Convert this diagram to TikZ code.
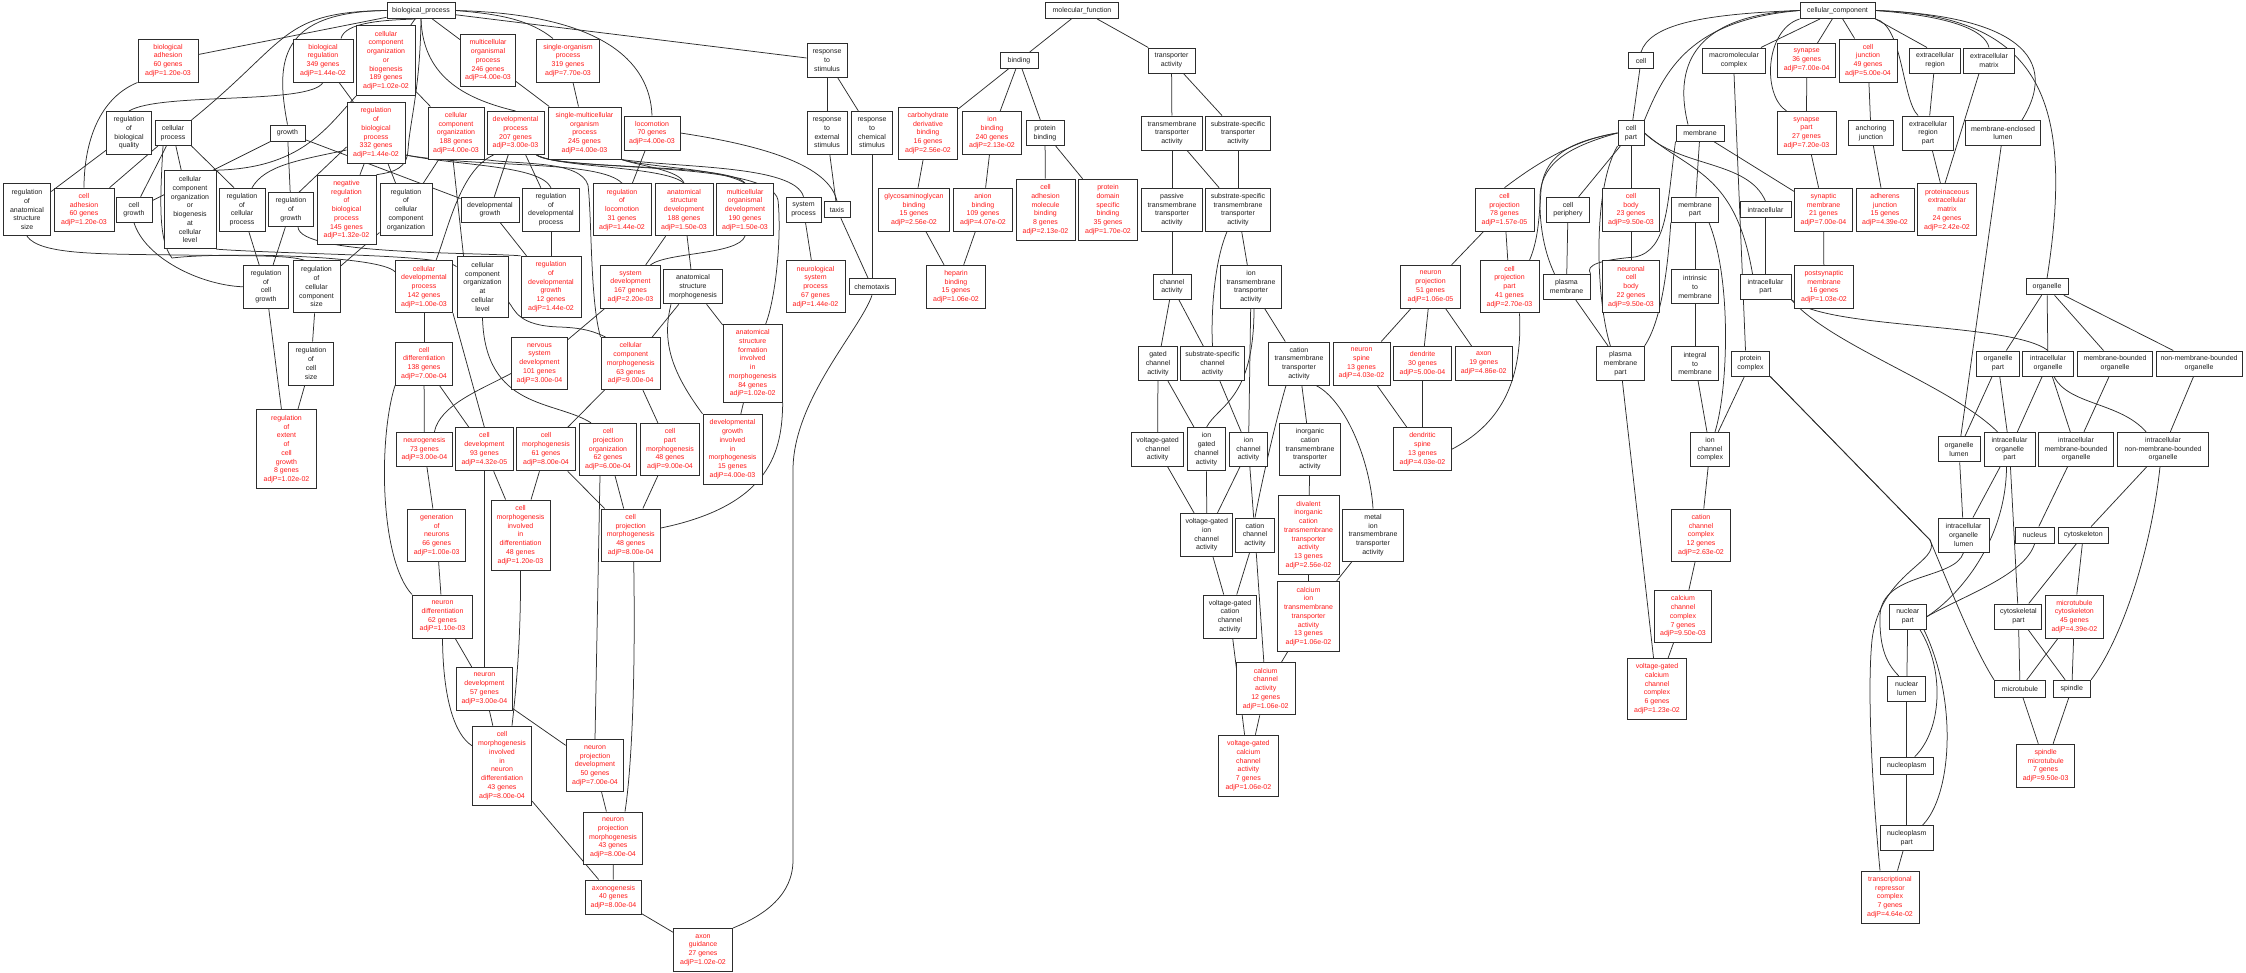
\documentclass[tikz,border=0pt]{standalone}
\usepackage{fontspec}
\setmainfont{Liberation Sans}
\usetikzlibrary{backgrounds}
\definecolor{gored}{RGB}{255,25,25}
\definecolor{gotext}{RGB}{30,30,30}
\definecolor{goline}{RGB}{45,45,45}
\tikzset{
  gb/.style 2 args={draw=goline, line width=1pt, fill=white, rectangle, inner sep=0.5pt, align=center, text=gotext, font=\fontsize{7}{8.75}\selectfont, minimum width=#1pt, minimum height=#2pt},
  rb/.style 2 args={gb={#1}{#2}, text=gored},
  edge/.style={draw=goline, line width=0.75pt},
}
\begin{document}
\begin{tikzpicture}[x=1pt,y=-1pt]
\useasboundingbox (0,0) rectangle (2246,972);
% ---------- row 0
\node[gb={68}{16}] (bp) at (421,10.5) {biological\_process};
\node[gb={73}{16}] (mf) at (1082,10.5) {molecular\_function};
\node[gb={75}{16}] (cc) at (1837.5,10.5) {cellular\_component};
% ---------- row 1
\node[rb={60}{43}] (bioadh) at (168,60.5) {biological\\adhesion\\60 genes\\adjP=1.20e-03};
\node[rb={60}{43}] (bioreg) at (323,60.5) {biological\\regulation\\349 genes\\adjP=1.44e-02};
\node[rb={59}{70}] (ccob) at (386,60.5) {cellular\\component\\organization\\or\\biogenesis\\189 genes\\adjP=1.02e-02};
\node[rb={55}{52}] (mop) at (488,60.5) {multicellular\\organismal\\process\\246 genes\\adjP=4.00e-03};
\node[rb={63}{43}] (sop) at (568,60.5) {single-organism\\process\\319 genes\\adjP=7.70e-03};
\node[gb={40}{34}] (rts) at (827,60.5) {response\\to\\stimulus};
\node[gb={38}{16}] (binding) at (1019,60.5) {binding};
\node[gb={47}{25}] (ta) at (1171.5,60.5) {transporter\\activity};
\node[gb={25}{16}] (cell) at (1641,60.5) {cell};
\node[gb={63}{25}] (macro) at (1734,60.5) {macromolecular\\complex};
\node[rb={58}{34}] (synapse) at (1806.7,60.5) {synapse\\36 genes\\adjP=7.00e-04};
\node[rb={58}{43}] (celljunc) at (1868,60.5) {cell\\junction\\49 genes\\adjP=5.00e-04};
\node[gb={51}{25}] (ecr) at (1935,60.5) {extracellular\\region};
\node[gb={51}{25}] (ecm) at (1989,60.5) {extracellular\\matrix};
% ---------- row 2
\node[gb={45}{43}] (rbq) at (129,133) {regulation\\of\\biological\\quality};
\node[gb={36}{25}] (cp) at (173,133) {cellular\\process};
\node[gb={35}{16}] (growth) at (287.5,133) {growth};
\node[rb={58}{61}] (rbp) at (376,133) {regulation\\of\\biological\\process\\332 genes\\adjP=1.44e-02};
\node[rb={56}{52}] (cco) at (456,133) {cellular\\component\\organization\\188 genes\\adjP=4.00e-03};
\node[rb={57}{43}] (devp) at (515.5,133) {developmental\\process\\207 genes\\adjP=3.00e-03};
\node[rb={73}{52}] (smop) at (584.5,133) {single-multicellular\\organism\\process\\245 genes\\adjP=4.00e-03};
\node[rb={56}{34}] (loco) at (652,133) {locomotion\\70 genes\\adjP=4.00e-03};
\node[gb={40}{43}] (rtes) at (827,133) {response\\to\\external\\stimulus};
\node[gb={41}{43}] (rtcs) at (872,133) {response\\to\\chemical\\stimulus};
\node[rb={59.5}{52}] (cdb) at (928,133) {carbohydrate\\derivative\\binding\\16 genes\\adjP=2.56e-02};
\node[rb={59.5}{43}] (ionb) at (992,133) {ion\\binding\\240 genes\\adjP=2.13e-02};
\node[gb={38}{25}] (protb) at (1045,133) {protein\\binding};
\node[gb={60.5}{34}] (tmta) at (1172,133) {transmembrane\\transporter\\activity};
\node[gb={64.5}{34}] (ssta) at (1238,133) {substrate-specific\\transporter\\activity};
\node[gb={26}{25}] (cellpart) at (1631,133) {cell\\part};
\node[gb={48}{16}] (membrane) at (1700,133) {membrane};
\node[rb={59}{43}] (synpart) at (1806.5,133) {synapse\\part\\27 genes\\adjP=7.20e-03};
\node[gb={45.5}{25}] (anchor) at (1871,133) {anchoring\\junction};
\node[gb={51}{34}] (ecrp) at (1928,133) {extracellular\\region\\part};
\node[gb={75.5}{25}] (mel) at (2003,133) {membrane-enclosed\\lumen};
% ---------- row 3
\node[gb={47.5}{52}] (rass) at (27,209.7) {regulation\\of\\anatomical\\structure\\size};
\node[rb={60}{43}] (celladh) at (84,209.7) {cell\\adhesion\\60 genes\\adjP=1.20e-03};
\node[gb={36}{25}] (cellgrowth) at (134,209.7) {cell\\growth};
\node[gb={52}{78}] (ccobcl) at (190,209.7) {cellular\\component\\organization\\or\\biogenesis\\at\\cellular\\level};
\node[gb={46}{43}] (rcp) at (242,209.7) {regulation\\of\\cellular\\process};
\node[gb={45}{34}] (rog) at (291,209.7) {regulation\\of\\growth};
\node[rb={59}{69}] (nrbp) at (346.5,209.7) {negative\\regulation\\of\\biological\\process\\145 genes\\adjP=1.32e-02};
\node[gb={52}{52}] (rcco) at (406,209.7) {regulation\\of\\cellular\\component\\organization};
\node[gb={58}{25}] (devgrowth) at (490,209.7) {developmental\\growth};
\node[gb={57.5}{43}] (rdp) at (551,209.7) {regulation\\of\\developmental\\process};
\node[rb={58}{52}] (rol) at (622,209.7) {regulation\\of\\locomotion\\31 genes\\adjP=1.44e-02};
\node[rb={58}{52}] (asd) at (684,209.7) {anatomical\\structure\\development\\188 genes\\adjP=1.50e-03};
\node[rb={57.5}{52}] (mod) at (745,209.7) {multicellular\\organismal\\development\\190 genes\\adjP=1.50e-03};
\node[gb={35}{25}] (sysproc) at (803.5,209.7) {system\\process};
\node[gb={26}{16}] (taxis) at (837,209.7) {taxis};
\node[rb={71}{43}] (gagb) at (914,209.7) {glycosaminoglycan\\binding\\15 genes\\adjP=2.56e-02};
\node[rb={59}{43}] (anionb) at (983,209.7) {anion\\binding\\109 genes\\adjP=4.07e-02};
\node[rb={59}{61}] (camb) at (1045.5,209.7) {cell\\adhesion\\molecule\\binding\\8 genes\\adjP=2.13e-02};
\node[rb={59}{61}] (pdsb) at (1108,209.7) {protein\\domain\\specific\\binding\\35 genes\\adjP=1.70e-02};
\node[gb={60.5}{43}] (ptta) at (1172,209.7) {passive\\transmembrane\\transporter\\activity};
\node[gb={64.5}{43}] (sstta) at (1238,209.7) {substrate-specific\\transmembrane\\transporter\\activity};
\node[rb={59}{43}] (cproj) at (1504.5,209.7) {cell\\projection\\78 genes\\adjP=1.57e-05};
\node[gb={43.5}{25}] (cperiph) at (1568,209.7) {cell\\periphery};
\node[rb={57.5}{43}] (cbody) at (1631,209.7) {cell\\body\\23 genes\\adjP=9.50e-03};
\node[gb={47.5}{25}] (mempart) at (1695,209.7) {membrane\\part};
\node[gb={51}{16}] (intracell) at (1765.5,209.7) {intracellular};
\node[rb={58}{43}] (synmem) at (1823.5,209.7) {synaptic\\membrane\\21 genes\\adjP=7.00e-04};
\node[rb={58}{43}] (adherens) at (1885,209.7) {adherens\\junction\\15 genes\\adjP=4.39e-02};
\node[rb={59.5}{52}] (pecm) at (1947,209.7) {proteinaceous\\extracellular\\matrix\\24 genes\\adjP=2.42e-02};
% ---------- row 4
\node[gb={45.5}{43}] (rcg) at (266,286.8) {regulation\\of\\cell\\growth};
\node[gb={47}{52}] (rccs) at (316.5,286.8) {regulation\\of\\cellular\\component\\size};
\node[rb={57}{52}] (cdp) at (424,286.8) {cellular\\developmental\\process\\142 genes\\adjP=1.00e-03};
\node[gb={51}{61}] (ccocl) at (482.5,286.8) {cellular\\component\\organization\\at\\cellular\\level};
\node[rb={60}{61}] (rdg) at (551,286.8) {regulation\\of\\developmental\\growth\\12 genes\\adjP=1.44e-02};
\node[rb={60}{43}] (sysdev) at (630.5,286.8) {system\\development\\167 genes\\adjP=2.20e-03};
\node[gb={59}{34}] (asm) at (693,286.8) {anatomical\\structure\\morphogenesis};
\node[rb={59}{52}] (nsp) at (815.5,286.8) {neurological\\system\\process\\67 genes\\adjP=1.44e-02};
\node[gb={46}{16}] (chemotaxis) at (872,286.8) {chemotaxis};
\node[rb={59.5}{43}] (heparin) at (956,286.8) {heparin\\binding\\15 genes\\adjP=1.06e-02};
\node[gb={38}{25}] (chact) at (1172,286.8) {channel\\activity};
\node[gb={61}{43}] (itta) at (1251,286.8) {ion\\transmembrane\\transporter\\activity};
\node[rb={59.5}{43}] (nproj) at (1430.5,286.8) {neuron\\projection\\51 genes\\adjP=1.06e-05};
\node[rb={59}{52}] (cpp) at (1509.5,286.8) {cell\\projection\\part\\41 genes\\adjP=2.70e-03};
\node[gb={47}{25}] (pm) at (1566.5,286.8) {plasma\\membrane};
\node[rb={57.5}{52}] (ncb) at (1631,286.8) {neuronal\\cell\\body\\22 genes\\adjP=9.50e-03};
\node[gb={47.5}{34}] (itm) at (1695,286.8) {intrinsic\\to\\membrane};
\node[gb={51}{25}] (icpart) at (1765.5,286.8) {intracellular\\part};
\node[rb={59.5}{43}] (psm) at (1824,286.8) {postsynaptic\\membrane\\16 genes\\adjP=1.03e-02};
\node[gb={42}{16}] (organelle) at (2047,286.8) {organelle};
% ---------- row 5
\node[gb={45}{43}] (rcs) at (311,363.5) {regulation\\of\\cell\\size};
\node[rb={57}{43}] (celldiff) at (424,363.5) {cell\\differentiation\\138 genes\\adjP=7.00e-04};
\node[rb={56}{52}] (nsd) at (539.5,363.5) {nervous\\system\\development\\101 genes\\adjP=3.00e-04};
\node[rb={59.4}{52}] (ccm) at (630.7,363.5) {cellular\\component\\morphogenesis\\63 genes\\adjP=9.00e-04};
\node[rb={59}{78}] (asfim) at (752.7,363.5) {anatomical\\structure\\formation\\involved\\in\\morphogenesis\\84 genes\\adjP=1.02e-02};
\node[gb={38.5}{34}] (gca) at (1158,363.5) {gated\\channel\\activity};
\node[gb={64.3}{34}] (ssca) at (1212.5,363.5) {substrate-specific\\channel\\activity};
\node[gb={61.4}{43}] (ctta) at (1299,363.5) {cation\\transmembrane\\transporter\\activity};
\node[rb={57}{43}] (nspine) at (1361.5,363.5) {neuron\\spine\\13 genes\\adjP=4.03e-02};
\node[rb={57.5}{34}] (dendrite) at (1422.5,363.5) {dendrite\\30 genes\\adjP=5.00e-04};
\node[rb={57.4}{34}] (axon) at (1483.7,363.5) {axon\\19 genes\\adjP=4.86e-02};
\node[gb={47.3}{34}] (pmp) at (1620.4,363.5) {plasma\\membrane\\part};
\node[gb={47.5}{34}] (integ) at (1695,363.5) {integral\\to\\membrane};
\node[gb={38.5}{25}] (protcomplex) at (1750.5,363.5) {protein\\complex};
\node[gb={42.6}{25}] (orgpart) at (1998,363.5) {organelle\\part};
\node[gb={50.5}{25}] (icorg) at (2048,363.5) {intracellular\\organelle};
\node[gb={75}{25}] (mbo) at (2115,363.5) {membrane-bounded\\organelle};
\node[gb={86}{25}] (nmbo) at (2199,363.5) {non-membrane-bounded\\organelle};
% ---------- row 6
\node[rb={60}{79}] (rex) at (286.5,449.3) {regulation\\of\\extent\\of\\cell\\growth\\8 genes\\adjP=1.02e-02};
\node[rb={56}{34}] (neurogenesis) at (424.4,449.3) {neurogenesis\\73 genes\\adjP=3.00e-04};
\node[rb={57.5}{43}] (celldev) at (484.4,449.3) {cell\\development\\93 genes\\adjP=4.32e-05};
\node[rb={59}{43}] (cellmorph) at (546,449.3) {cell\\morphogenesis\\61 genes\\adjP=8.00e-04};
\node[rb={57.5}{52}] (cpo) at (608,449.3) {cell\\projection\\organization\\62 genes\\adjP=6.00e-04};
\node[rb={59}{52}] (cpm) at (670,449.3) {cell\\part\\morphogenesis\\48 genes\\adjP=9.00e-04};
\node[rb={59}{70}] (dgim) at (732.5,449.3) {developmental\\growth\\involved\\in\\morphogenesis\\15 genes\\adjP=4.00e-03};
\node[gb={52.7}{34}] (vgca) at (1157.6,449.3) {voltage-gated\\channel\\activity};
\node[gb={38.5}{43}] (igca) at (1206.5,449.3) {ion\\gated\\channel\\activity};
\node[gb={38}{34}] (ica) at (1248.5,449.3) {ion\\channel\\activity};
\node[gb={60.8}{52}] (icta) at (1310,449.3) {inorganic\\cation\\transmembrane\\transporter\\activity};
\node[rb={57.5}{43}] (dspine) at (1422.5,449.3) {dendritic\\spine\\13 genes\\adjP=4.03e-02};
\node[gb={39}{34}] (icc) at (1710,449.3) {ion\\channel\\complex};
\node[gb={42}{25}] (orglumen) at (1959,449.3) {organelle\\lumen};
\node[gb={51}{34}] (icop) at (2009.5,449.3) {intracellular\\organelle\\part};
\node[gb={75}{34}] (imbo) at (2076,449.3) {intracellular\\membrane-bounded\\organelle};
\node[gb={91}{34}] (inmbo) at (2163,449.3) {intracellular\\non-membrane-bounded\\organelle};
% ---------- row 7
\node[rb={57.5}{52}] (gon) at (436.7,535) {generation\\of\\neurons\\66 genes\\adjP=1.00e-03};
\node[rb={59}{70}] (cmid) at (520.5,535) {cell\\morphogenesis\\involved\\in\\differentiation\\48 genes\\adjP=1.20e-03};
\node[rb={59.4}{52}] (cprojm) at (630.7,535) {cell\\projection\\morphogenesis\\48 genes\\adjP=8.00e-04};
\node[gb={52}{43}] (vgica) at (1206.7,535) {voltage-gated\\ion\\channel\\activity};
\node[gb={38.5}{34}] (cca) at (1255,535) {cation\\channel\\activity};
\node[rb={61}{79}] (dicta) at (1308.5,535) {divalent\\inorganic\\cation\\transmembrane\\transporter\\activity\\13 genes\\adjP=2.56e-02};
\node[gb={60.8}{52}] (mitta) at (1373,535) {metal\\ion\\transmembrane\\transporter\\activity};
\node[rb={58.6}{52}] (ccc) at (1701,535) {cation\\channel\\complex\\12 genes\\adjP=2.63e-02};
\node[gb={51}{34}] (iol) at (1963.6,535) {intracellular\\organelle\\lumen};
\node[gb={39}{16}] (nucleus) at (2034.7,535) {nucleus};
\node[gb={50}{16}] (cytoskeleton) at (2083.3,535) {cytoskeleton};
% ---------- row 8
\node[rb={60}{43}] (ndiff) at (442.5,616.5) {neuron\\differentiation\\62 genes\\adjP=1.10e-03};
\node[gb={52.4}{43}] (vgcca) at (1230,616.5) {voltage-gated\\cation\\channel\\activity};
\node[rb={61.5}{70}] (citta) at (1308.5,616.5) {calcium\\ion\\transmembrane\\transporter\\activity\\13 genes\\adjP=1.06e-02};
\node[rb={57.5}{52}] (calcc) at (1683,616.5) {calcium\\channel\\complex\\7 genes\\adjP=9.50e-03};
\node[gb={37.5}{25}] (nucpart) at (1907.8,616.5) {nuclear\\part};
\node[gb={47}{25}] (cskpart) at (2018.4,616.5) {cytoskeletal\\part};
\node[rb={58}{43}] (mtcsk) at (2074.4,616.5) {microtubule\\cytoskeleton\\45 genes\\adjP=4.39e-02};
% ---------- row 9
\node[rb={56}{43}] (ndev) at (484.4,688.8) {neuron\\development\\57 genes\\adjP=3.00e-04};
\node[rb={59.3}{52}] (calca) at (1265.7,688.8) {calcium\\channel\\activity\\12 genes\\adjP=1.06e-02};
\node[rb={59}{61}] (vgccc) at (1657,688.8) {voltage-gated\\calcium\\channel\\complex\\6 genes\\adjP=1.23e-02};
\node[gb={37.5}{25}] (nuclumen) at (1906.7,688.8) {nuclear\\lumen};
\node[gb={51}{17}] (microtubule) at (2020,688.8) {microtubule};
\node[gb={37.5}{17}] (spindle) at (2071.8,688.8) {spindle};
% ---------- row 10
\node[rb={59}{79}] (cmind) at (502,765.7) {cell\\morphogenesis\\involved\\in\\neuron\\differentiation\\43 genes\\adjP=8.00e-04};
\node[rb={57.5}{52}] (npd) at (595,765.7) {neuron\\projection\\development\\50 genes\\adjP=7.00e-04};
\node[rb={59.6}{61}] (vgcca2) at (1248.4,765.7) {voltage-gated\\calcium\\channel\\activity\\7 genes\\adjP=1.06e-02};
\node[gb={52.7}{17}] (nucleoplasm) at (1906.7,765.7) {nucleoplasm};
\node[rb={58}{43}] (spmt) at (2045.6,765.7) {spindle\\microtubule\\7 genes\\adjP=9.50e-03};
% ---------- rows 11-13
\node[rb={59.6}{52}] (npm) at (613,838) {neuron\\projection\\morphogenesis\\43 genes\\adjP=8.00e-04};
\node[gb={52.7}{25}] (npart) at (1906.7,838) {nucleoplasm\\part};
\node[rb={56}{34}] (axonogenesis) at (613.5,897) {axonogenesis\\40 genes\\adjP=8.00e-04};
\node[rb={58}{52}] (trc) at (1890,897) {transcriptional\\repressor\\complex\\7 genes\\adjP=4.64e-02};
\node[rb={59}{43}] (axonguid) at (703,950) {axon\\guidance\\27 genes\\adjP=1.02e-02};

% ================= connectors
\begin{scope}[on background layer]
\foreach \a/\b in {bp/bioadh, bp/ccob, bp/mop, bp/rts,
  bioreg/rbp, ccob/cco, mop/smop, sop/smop, rbq/rass,
  cp/cellgrowth, cp/ccobcl, cp/celladh,
  growth/cellgrowth, growth/rog, growth/devgrowth,
  rbp/nrbp, rbp/rcco, cco/rcco,
  devp/devgrowth, devp/rdp,
  loco/rol, rts/rtes, rts/rtcs, rtes/taxis, rtcs/chemotaxis, taxis/chemotaxis,
  rdp/rdg, devgrowth/rdg, rog/rcg, rcp/rcg, rcco/rccs,
  asd/sysdev, asd/asm, sysproc/nsp, rccs/rcs, rcg/rex, rcs/rex,
  cdp/celldiff, sysdev/nsd, asm/ccm, asm/asfim, celldiff/neurogenesis, celldiff/celldev,
  ccm/cellmorph, ccm/cpm, celldev/cmid, cellmorph/cmid, cellmorph/cprojm,
  neurogenesis/gon, gon/ndiff, ndiff/ndev, celldev/ndev, ndev/cmind,
  cpo/cprojm, cpm/cprojm, asfim/dgim, ndev/npd, npd/npm, npm/axonogenesis,
  cmind/axonogenesis, axonogenesis/axonguid,
  mf/binding, mf/ta, binding/cdb, binding/ionb, binding/protb, cdb/gagb, ionb/anionb,
  gagb/heparin, anionb/heparin, protb/camb, protb/pdsb,
  ta/tmta, ta/ssta, tmta/ptta, tmta/sstta, ssta/sstta, ptta/chact, sstta/itta,
  chact/gca, chact/ssca, itta/ica, itta/ctta,
  gca/vgca, gca/igca, ssca/ica, ctta/icta, vgca/vgica, igca/vgica, ica/vgica, ica/cca,
  icta/dicta, vgica/vgcca, cca/vgcca, dicta/citta, mitta/citta, citta/calca, cca/calca,
  calca/vgcca2, vgcca/vgcca2,
  cc/macro, cc/synapse, cc/celljunc, cell/cellpart, cellpart/cperiph, cellpart/cbody,
  membrane/mempart, membrane/synmem, mempart/itm, itm/integ, integ/icc, protcomplex/icc,
  cperiph/pm, cproj/nproj, cproj/cpp, cbody/ncb, nproj/nspine, nproj/dendrite, nproj/axon,
  nspine/dspine, dendrite/dspine, pm/pmp, pmp/vgccc, icc/ccc, ccc/calcc, calcc/vgccc,
  synapse/synpart, synpart/synmem, synmem/psm, celljunc/anchor, anchor/adherens,
  ecr/ecrp, ecrp/pecm, mel/orglumen, intracell/icpart,
  organelle/orgpart, organelle/icorg, organelle/mbo, organelle/nmbo,
  orgpart/orglumen, orgpart/icop, icorg/icop, icorg/imbo, mbo/imbo, nmbo/inmbo,
  orglumen/iol, icop/iol, imbo/nucleus, inmbo/cytoskeleton, icop/cskpart,
  cytoskeleton/cskpart, cytoskeleton/mtcsk, nucpart/nuclumen, nuclumen/nucleoplasm,
  nucleoplasm/npart, npart/trc, cskpart/microtubule, cskpart/spindle,
  mtcsk/microtubule, mtcsk/spindle, microtubule/spmt, spindle/spmt}
  \draw[edge] (\a) -- (\b);

% ---- shifted straight connectors
\draw[edge] ([yshift=-14pt]rbp.west) -- ([xshift=8pt]rog.north);
\draw[edge] (cp.south east) -- ([xshift=-8pt]rcp.north);
\draw[edge] ([xshift=-3pt]cco.south) -- ([xshift=-19pt]ccocl.north);
\draw[edge] (cdp.south east) -- (celldev.north);
\draw[edge] ([xshift=-8pt]cpo.south) -- (npd.north);
\draw[edge] (cc.south east) -- ([xshift=-8pt]ecr.north);
\draw[edge] ([xshift=-10pt]ecm.south) -- ([xshift=-2pt]pecm.north);
\draw[edge] (macro.south) -- ([xshift=-5pt]protcomplex.north);

% ---- curved connectors, biological process
\draw[edge] ([xshift=-5pt]bp.south) .. controls (385,20) and (345,22) .. ([xshift=18pt]bioreg.north);
\draw[edge] (bp.east) .. controls (500,14) and (530,20) .. ([xshift=-15pt]sop.north);
\draw[edge] (bp.east) .. controls (600,14) and (650,60) .. (loco.north);
\draw[edge] (bp.south) .. controls (423,80) and (470,100) .. (devp.north);
\draw[edge] (bp.west) .. controls (280,12) and (275,60) .. (growth.north);
\draw[edge] (bp.west) .. controls (280,12) and (290,40) .. (cp.north east);
\draw[edge] (bp.south) .. controls (420,90) and (410,120) .. (408,150) .. controls (407,168) and (395,172) .. (nrbp.north east);
\draw[edge] (bioadh.south west) .. controls (95,100) and (84,150) .. (celladh.north);
\draw[edge] (bioreg.south) .. controls (310,105) and (160,92) .. (rbq.north);
\draw[edge] (ccob.south west) .. controls (325,130) and (300,168) .. (ccobcl.north east);
\draw[edge] ([xshift=-10pt]cp.south) .. controls (160,200) and (158,240) .. (172,258) .. controls (220,252) and (380,255) .. ([yshift=15pt]cdp.west);
\draw[edge] (rass.south) .. controls (40,255) and (100,254) .. (180,255) .. controls (250,256) and (290,255) .. ([xshift=-12pt]rccs.north);
\draw[edge] (ccobcl.south east) .. controls (300,255) and (445,254) .. ([yshift=20pt]ccocl.west);
\draw[edge] ([yshift=-17pt]rbp.west) .. controls (300,160) and (265,165) .. ([xshift=10pt]rcp.north);
\draw[edge] ([yshift=-22pt]rbp.east) .. controls (460,166) and (540,165) .. (rdp.north);
\draw[edge] ([yshift=-22pt]rbp.east) .. controls (480,168) and (600,160) .. (rol.north);
\draw[edge] (cco.south east) .. controls (520,165) and (580,160) .. (588,185) .. controls (592,220) and (590,300) .. (ccm.north west);
\draw[edge] ([yshift=-15pt]ccocl.east) .. controls (515,310) and (518,326) .. (560,327) .. controls (585,328) and (595,332) .. ([xshift=5pt]ccm.north west);
\draw[edge] ([xshift=-8pt]devp.south east) .. controls (560,168) and (665,166) .. (asd.north);
\draw[edge] ([xshift=-8pt]devp.south east) .. controls (560,170) and (730,163) .. (mod.north);
\draw[edge] ([xshift=7pt]devp.south west) .. controls (460,170) and (448,230) .. ([xshift=12pt]cdp.north);
\draw[edge] ([xshift=-8pt]devp.south east) .. controls (560,172) and (770,160) .. (778,200) .. controls (782,240) and (775,300) .. ([xshift=13pt]asfim.north);
\draw[edge] (smop.south east) .. controls (650,168) and (720,168) .. (mod.north);
\draw[edge] (smop.south east) .. controls (640,166) and (680,170) .. (asd.north);
\draw[edge] (smop.south east) .. controls (680,168) and (795,165) .. (sysproc.north);
\draw[edge] (loco.east) .. controls (780,148) and (830,170) .. (taxis.north);
\draw[edge] ([xshift=7pt]rog.south) .. controls (300,255) and (470,252) .. (rdg.north west);
\draw[edge] (cellgrowth.south) .. controls (145,258) and (200,285) .. (rcg.west);
\draw[edge] (mod.south) .. controls (738,255) and (668,252) .. ([xshift=20pt]sysdev.north);
\draw[edge] ([yshift=-10pt]nsd.west) .. controls (480,390) and (440,405) .. ([xshift=10pt]neurogenesis.north);
\draw[edge] (ccocl.south) .. controls (485,410) and (555,400) .. ([xshift=-17pt]cpo.north);
\draw[edge] (celldiff.south west) .. controls (378,440) and (380,560) .. (ndiff.north west);
\draw[edge] (cmid.south) .. controls (521,640) and (516,690) .. ([xshift=10pt]cmind.north);
\draw[edge] (ndiff.south) .. controls (443,700) and (455,735) .. ([yshift=20pt]cmind.west);
\draw[edge] (asfim.south east) .. controls (782,450) and (772,505) .. ([yshift=7pt]cprojm.east);
\draw[edge] ([xshift=-22pt]asm.south) .. controls (662,340) and (670,370) .. (dgim.north west);
\draw[edge] ([xshift=3pt]cprojm.south) .. controls (636,700) and (630,780) .. ([xshift=12pt]npm.north);
\draw[edge] (chemotaxis.south) .. controls (860,330) and (793,400) .. (793,470) -- (793,860) .. controls (793,895) and (765,915) .. (axonguid.north east);
% ---- curved connectors, molecular function
\draw[edge] ([xshift=-11pt]sstta.south) .. controls (1213,265) and (1211,320) .. (ssca.north);
\draw[edge] ([xshift=3pt]itta.south) .. controls (1254,400) and (1218,405) .. (igca.north);
\draw[edge] ([xshift=-13pt]ctta.south) .. controls (1276,420) and (1262,480) .. (cca.north);
\draw[edge] ([xshift=17pt]ctta.south) .. controls (1345,400) and (1370,460) .. (mitta.north);
% ---- curved connectors, cellular component
\draw[edge] (cc.west) .. controls (1700,14) and (1650,25) .. (cell.north);
\draw[edge] (cc.west) .. controls (1690,20) and (1665,70) .. (cellpart.north east);
\draw[edge] (cc.west) .. controls (1700,15) and (1672,60) .. ([xshift=-12pt]membrane.north);
\draw[edge] (cc.south west) .. controls (1765,30) and (1762,95) .. ([xshift=-20pt]synpart.north);
\draw[edge] (cc.south east) .. controls (1903,25) and (1902,100) .. ([xshift=-10pt]ecrp.north);
\draw[edge] (cc.east) .. controls (1950,16) and (1985,30) .. (ecm.north);
\draw[edge] (cc.east) .. controls (2000,15) and (2065,50) .. ([xshift=19pt]mel.north);
\draw[edge] (cc.east) .. controls (2040,15) and (2075,100) .. (organelle.north);
\draw[edge] (cellpart.west) .. controls (1570,140) and (1528,170) .. (cproj.north);
\draw[edge] (cellpart.west) .. controls (1580,140) and (1545,150) .. (1541,190) .. controls (1539,220) and (1538,240) .. ([xshift=20pt]cpp.north);
\draw[edge] (cellpart.west) .. controls (1575,145) and (1542,160) .. (1540,195) .. controls (1539,235) and (1548,260) .. ([xshift=-12pt]pm.north);
\draw[edge] (cellpart.south west) .. controls (1592,190) and (1596,300) .. ([xshift=-10pt]pmp.north);
\draw[edge] (cellpart.east) .. controls (1680,168) and (1748,160) .. (intracell.north);
\draw[edge] (cellpart.east) .. controls (1690,172) and (1735,172) .. ([xshift=-13pt]icpart.north);
\draw[edge] (membrane.south west) .. controls (1667,205) and (1668,250) .. (1635,257) .. controls (1600,260) and (1585,265) .. (pm.north east);
\draw[edge] (mempart.south west) .. controls (1668,265) and (1662,320) .. (pmp.north east);
\draw[edge] ([xshift=14pt]mempart.south) .. controls (1732,280) and (1728,390) .. ([xshift=5pt]icc.north);
\draw[edge] ([xshift=10pt]cpp.south) .. controls (1523,385) and (1498,425) .. (dspine.east);
\draw[edge] (icpart.south east) .. controls (1830,345) and (1950,385) .. ([xshift=-12pt]icop.north);
\draw[edge] (icpart.south east) .. controls (1830,330) and (2010,322) .. (icorg.north);
\draw[edge] ([xshift=6pt]icorg.south) .. controls (2068,405) and (2120,402) .. ([xshift=-17pt]inmbo.north);
\draw[edge] ([xshift=-3pt]icop.south) .. controls (2006,540) and (1960,595) .. (nucpart.east);
\draw[edge] (nucleus.south) .. controls (2025,575) and (1965,595) .. (nucpart.east);
\draw[edge] (iol.south) .. controls (1955,580) and (1882,572) .. (1880,615) .. controls (1879,650) and (1888,665) .. ([xshift=-8pt]nuclumen.north);
\draw[edge] ([xshift=12pt]nucpart.south) .. controls (1945,670) and (1942,730) .. ([xshift=8pt]nucleoplasm.north);
\draw[edge] ([xshift=16pt]nucpart.south) .. controls (1958,700) and (1952,795) .. ([xshift=16pt]npart.north);
\draw[edge] (protcomplex.south east) -- (1930,540) .. controls (1942,562) and (1880,572) .. (1872,640) .. controls (1866,700) and (1875,820) .. ([xshift=-10pt]trc.north);
\draw[edge] (protcomplex.south east) -- (1930,540) .. controls (1955,600) and (1975,650) .. (microtubule.north west);
\draw[edge] ([xshift=-3pt]inmbo.south) .. controls (2150,560) and (2118,645) .. (spindle.north east);
\end{scope}
\end{tikzpicture}
\end{document}
